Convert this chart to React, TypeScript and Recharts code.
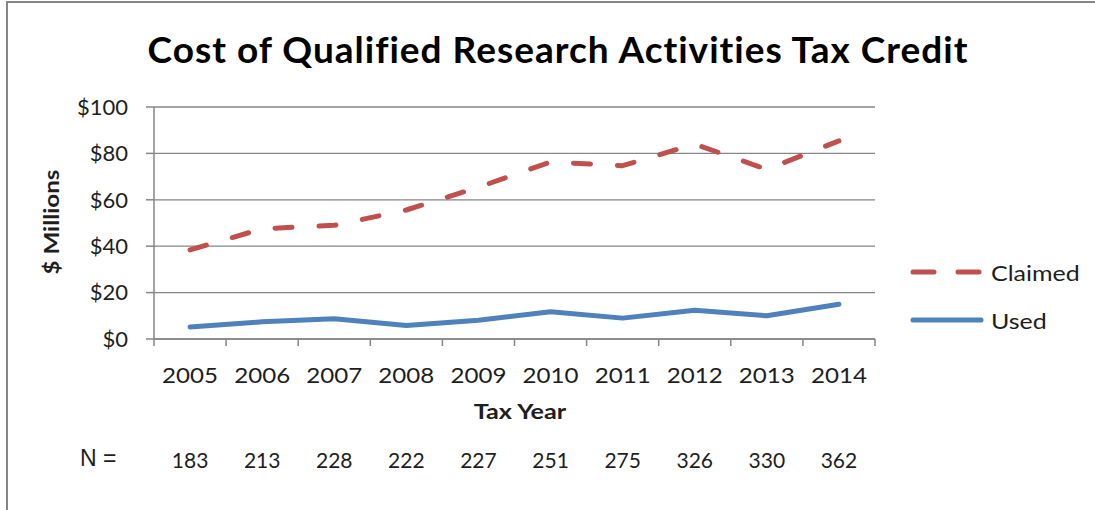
import { LineChart, Line, XAxis, YAxis, CartesianGrid, Legend } from 'recharts';

// Tax years and values ($ millions)
const years = ['2005', '2006', '2007', '2008', '2009', '2010', '2011', '2012', '2013', '2014'];
const claimed = [38.4, 47.5, 49.0, 55.6, 65.4, 76.3, 74.7, 84.0, 73.1, 85.4];
const used = [5.2, 7.4, 8.7, 5.8, 8.1, 11.7, 9.0, 12.4, 10.0, 15.0];
const respondents = [183, 213, 228, 222, 227, 251, 275, 326, 330, 362];
const yTicks = [0, 20, 40, 60, 80, 100];

const data = years.map((year, i) => ({
  year,
  Claimed: claimed[i],
  Used: used[i],
  n: respondents[i],
}));

const FONT = 'Lato, "Open Sans", sans-serif';
const AXIS_GREY = '#868686';
const TEXT = '#1e1e1e';

// plot box
const PLOT_LEFT = 154;
const PLOT_RIGHT = 875;
const HALF_BAND = (PLOT_RIGHT - PLOT_LEFT) / years.length / 2;

// Year label + boundary tick marks + N count under each category
const YearTick = (props: any) => {
  const { x, y, payload, index } = props;
  const last = index === years.length - 1;
  return (
    <g>
      <line x1={x - HALF_BAND} x2={x - HALF_BAND} y1={y} y2={y + 7} stroke={AXIS_GREY} strokeWidth={1.5} />
      {last && <line x1={x + HALF_BAND} x2={x + HALF_BAND} y1={y} y2={y + 7} stroke={AXIS_GREY} strokeWidth={1.5} />}
      <text
        x={x}
        y={y + 44}
        textAnchor="middle"
        fontFamily={FONT}
        fontSize={22}
        fill={TEXT}
        textLength={56}
        lengthAdjust="spacingAndGlyphs"
      >
        {payload.value}
      </text>
      <text x={x} y={y + 129} textAnchor="middle" fontFamily={FONT} fontSize={21} fill={TEXT}>
        {respondents[index]}
      </text>
    </g>
  );
};

const LegendContent = (props: any) => {
  const { payload } = props;
  return (
    <div style={{ fontFamily: FONT }}>
      {payload.map((item: any) => (
        <div key={item.value} style={{ display: 'flex', alignItems: 'center', height: 48 }}>
          <svg width={88} height={20}>
            <line
              x1={10}
              x2={78}
              y1={10}
              y2={10}
              stroke={item.color}
              strokeWidth={5}
              strokeLinecap="round"
              strokeDasharray={item.value === 'Claimed' ? '21 24' : undefined}
            />
          </svg>
          <span
            style={{
              fontSize: 21,
              color: TEXT,
              display: 'inline-block',
              transform: 'scaleX(1.19)',
              transformOrigin: 'left center',
            }}
          >
            {item.value}
          </span>
        </div>
      ))}
    </div>
  );
};

export default function App() {
  return (
    <div style={{ position: 'absolute', left: 0, top: 0, width: 1095, height: 510, background: '#fff', overflow: 'hidden' }}>
      <div
        style={{
          position: 'absolute',
          left: 6,
          top: 1,
          width: 1100,
          height: 520,
          borderTop: `2px solid ${AXIS_GREY}`,
          borderLeft: `2px solid ${AXIS_GREY}`,
        }}
      />
      <div
        style={{
          position: 'absolute',
          left: 558,
          top: 48,
          transform: 'translate(-50%, -50%)',
          whiteSpace: 'nowrap',
          fontFamily: FONT,
          fontWeight: 700,
          fontSize: 37,
          letterSpacing: 1,
          color: '#000',
        }}
      >
        Cost of Qualified Research Activities Tax Credit
      </div>
      <div
        style={{
          position: 'absolute',
          left: 50,
          top: 222,
          transform: 'translate(-50%, -50%) rotate(-90deg) scaleX(1.15)',
          fontFamily: FONT,
          fontWeight: 700,
          fontSize: 21,
          color: TEXT,
          whiteSpace: 'nowrap',
        }}
      >
        $ Millions
      </div>
      <div
        style={{
          position: 'absolute',
          left: 520,
          top: 410,
          transform: 'translate(-50%, -50%) scaleX(1.2)',
          fontFamily: FONT,
          fontWeight: 700,
          fontSize: 21,
          color: TEXT,
          whiteSpace: 'nowrap',
        }}
      >
        Tax Year
      </div>
      <div
        style={{
          position: 'absolute',
          left: 80,
          top: 445,
          fontFamily: '"Liberation Sans", Arial, sans-serif',
          fontSize: 23,
          color: TEXT,
        }}
      >
        N =
      </div>
      <LineChart
        width={1095}
        height={510}
        data={data}
        margin={{ top: 107, right: 1095 - PLOT_RIGHT, bottom: 141, left: PLOT_LEFT - 70 }}
        style={{ position: 'absolute', left: 0, top: 0 }}
      >
        <CartesianGrid vertical={false} stroke={AXIS_GREY} strokeWidth={1.3} />
        <XAxis
          dataKey="year"
          height={30}
          padding={{ left: HALF_BAND, right: HALF_BAND }}
          axisLine={{ stroke: AXIS_GREY, strokeWidth: 1.5 }}
          tickLine={false}
          tickSize={0}
          tickMargin={0}
          interval={0}
          tick={<YearTick />}
        />
        <YAxis
          width={70}
          domain={[0, 100]}
          ticks={yTicks}
          interval={0}
          tickFormatter={(v: number) => `$${v}`}
          axisLine={{ stroke: AXIS_GREY, strokeWidth: 1.5 }}
          tickLine={{ stroke: AXIS_GREY, strokeWidth: 1.5 }}
          tickSize={8}
          tickMargin={18}
          tick={{ fontFamily: FONT, fontSize: 22, fill: TEXT }}
        />
        <Legend
          layout="horizontal"
          verticalAlign="middle"
          align="center"
          content={<LegendContent />}
          wrapperStyle={{ position: 'absolute', left: 903, top: 248, width: 190 }}
        />
        <Line
          type="linear"
          dataKey="Claimed"
          stroke="#C0504D"
          strokeWidth={5}
          strokeDasharray="17 27"
          strokeLinecap="round"
          strokeLinejoin="round"
          dot={false}
          activeDot={false}
          isAnimationActive={false}
        />
        <Line
          type="linear"
          dataKey="Used"
          stroke="#4F81BD"
          strokeWidth={5}
          strokeLinecap="round"
          strokeLinejoin="round"
          dot={false}
          activeDot={false}
          isAnimationActive={false}
        />
      </LineChart>
    </div>
  );
}
